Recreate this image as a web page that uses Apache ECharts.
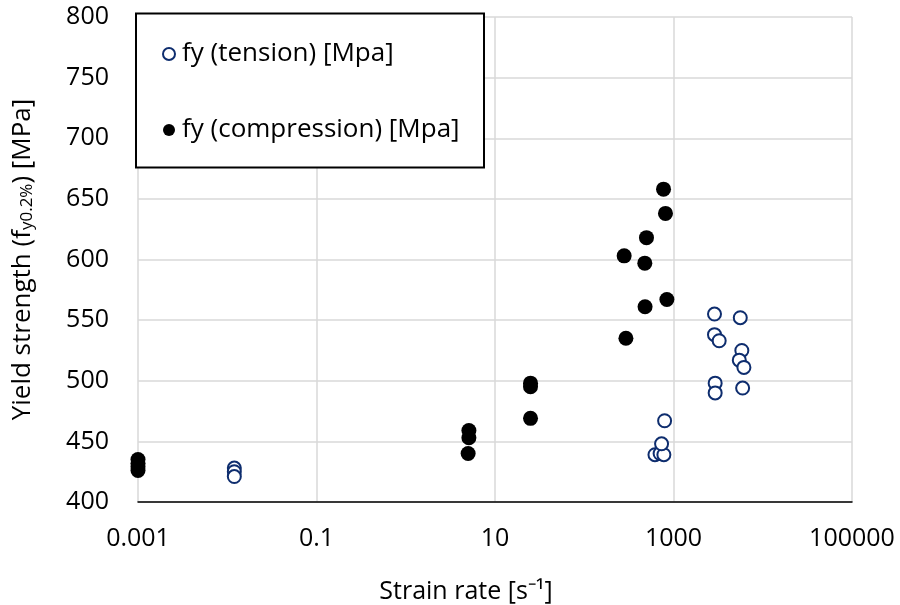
<!DOCTYPE html>
<html>
<head>
<meta charset="utf-8">
<script src="https://cdn.jsdelivr.net/npm/echarts@6/dist/echarts.min.js"></script>
<style>
html,body{margin:0;padding:0;background:#fff;}
#chart{width:900px;height:605px;}
</style>
</head>
<body>
<div id="chart"></div>
<script>
// ---- data ----
const tensionX = [0.012, 0.012, 0.012, 620, 708, 780, 735, 795, 2880, 2880, 3250, 2930, 2930, 5600, 5830, 5460, 6150, 5950];
const tensionY = [428, 425, 421, 439, 440, 439, 448, 467, 555, 538, 533, 498, 490, 552, 525, 517, 511, 494];
const compressionX = [0.001, 0.001, 0.001, 0.001, 5.1, 5.1, 5.0, 25, 25, 25, 293, 280, 480, 477, 498, 773, 813, 843];
const compressionY = [435, 432, 429, 426, 459, 453, 440, 498, 495, 469, 535, 603, 561, 597, 618, 658, 638, 567];
const xTickLabels = ['0.001', '0.1', '10', '1000', '100000'];
const xTickExponents = [-3, -1, 1, 3, 5];
const seriesNames = ['fy (tension) [Mpa]', 'fy (compression) [Mpa]'];

const FONT = 'Open Sans';
const FS = 25;
const chart = echarts.init(document.getElementById('chart'), null, {renderer: 'canvas'});

const zip = (xs, ys) => xs.map((x, i) => [x, ys[i]]);

chart.setOption({
  animation: false,
  backgroundColor: '#fff',
  textStyle: {fontFamily: FONT},
  grid: {left: 138, right: 48, top: 17, bottom: 103, containLabel: false},
  xAxis: {
    type: 'log',
    logBase: 10,
    min: 0.001,
    max: 100000,
    interval: 2,
    axisLine: {show: true, lineStyle: {color: '#000', width: 1.5}},
    axisTick: {show: false},
    minorTick: {show: false},
    splitLine: {show: true, lineStyle: {color: '#d9d9d9', width: 1.5}},
    axisLabel: {
      fontFamily: FONT, fontSize: FS, color: '#000', margin: 24,
      formatter: function (v) {
        const e = Math.round(Math.log10(v));
        const i = xTickExponents.indexOf(e);
        return i >= 0 ? xTickLabels[i] : '';
      }
    }
  },
  yAxis: {
    type: 'value',
    min: 400,
    max: 800,
    interval: 50,
    axisLine: {show: false},
    axisTick: {show: false},
    splitLine: {show: true, lineStyle: {color: '#d9d9d9', width: 1.5}},
    axisLabel: {fontFamily: FONT, fontSize: FS, color: '#000', margin: 29},
    name: '{n|Yield strength (f}{s|y0.2%}{n|) [MPa]}',
    nameLocation: 'middle',
    nameRotate: 90,
    nameGap: 102,
    nameTextStyle: {
      rich: {
        n: {fontFamily: FONT, fontSize: 26, color: '#000'},
        s: {fontFamily: FONT, fontSize: 17, color: '#000', verticalAlign: 'bottom', padding: [9, 0, 0, 0]}
      }
    }
  },
  graphic: [
    {
      type: 'rect', z: 3,
      shape: {x: 136, y: 13.5, width: 348, height: 154},
      style: {fill: '#fff', stroke: '#000', lineWidth: 2}
    },
    {
      type: 'text', z: 5,
      style: {
        text: 'Strain rate [s\u207B\u00B9]',
        x: 466, y: 592, align: 'center', verticalAlign: 'middle',
        font: '25px "Open Sans"', fill: '#000'
      }
    }
  ],
  legend: {
    orient: 'vertical',
    left: 162,
    top: 41,
    z: 6,
    itemWidth: 16,
    itemHeight: 12,
    itemGap: 50,
    padding: 0,
    textStyle: {fontFamily: FONT, fontSize: 26, color: '#000'},
    data: seriesNames
  },
  series: [
    {
      name: seriesNames[0],
      type: 'scatter',
      symbol: 'emptyCircle',
      symbolSize: 13,
      itemStyle: {color: '#0e2d6e', borderColor: '#0e2d6e', borderWidth: 2, opacity: 1},
      data: zip(tensionX, tensionY),
      z: 3
    },
    {
      name: seriesNames[1],
      type: 'scatter',
      symbol: 'circle',
      symbolSize: 15,
      itemStyle: {color: '#000', opacity: 1},
      data: zip(compressionX, compressionY),
      z: 4
    }
  ]
});
</script>
</body>
</html>
